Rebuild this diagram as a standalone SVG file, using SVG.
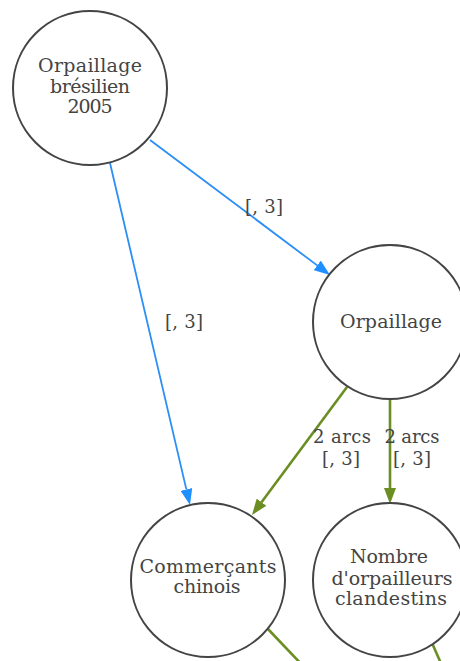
<svg xmlns="http://www.w3.org/2000/svg" width="460" height="661" viewBox="0 0 460 661">
<style>
.node circle{fill:#fff;stroke:#444;stroke-width:2}
.node text{font-family:"DejaVu Serif",serif;font-size:19px;fill:#444;text-anchor:middle}
.lbl{font-family:"DejaVu Serif",serif;font-size:18px;fill:#444;text-anchor:middle}
.blue{stroke:#2b8ff5;stroke-width:1.8;fill:none}
.green{stroke:#6b8e23;stroke-width:2.6;fill:none}
</style>
<defs>
<marker id="ab" viewBox="0 -6 16 12" markerWidth="16" markerHeight="12" refX="0" refY="0" orient="auto" markerUnits="userSpaceOnUse"><path d="M0,-6 L16,0 L0,6 z" fill="#1e8fff"/></marker>
<marker id="ag" viewBox="0 -6 16 12" markerWidth="16" markerHeight="12" refX="0" refY="0" orient="auto" markerUnits="userSpaceOnUse"><path d="M0,-6 L16,0 L0,6 z" fill="#6b8e23"/></marker>
</defs>
<g id="edges">
<path class="blue" d="M110,163 L186.35,489.4" marker-end="url(#ab)"/>
<path class="blue" d="M150,140 L317.2,265.4" marker-end="url(#ab)"/>
<path class="green" d="M347,387 L261.5,502.2" marker-end="url(#ag)"/>
<path class="green" d="M390,399 L390,488" marker-end="url(#ag)"/>
<path class="green" d="M267,628 L305,668"/>
<path class="green" d="M432,643 L443,668"/>
<text class="lbl" x="264" y="213" textLength="38" lengthAdjust="spacing">[, 3]</text>
<text class="lbl" x="184" y="328" textLength="38" lengthAdjust="spacing">[, 3]</text>
<text class="lbl" x="342" y="443" textLength="58" lengthAdjust="spacing">2 arcs</text>
<text class="lbl" x="341" y="465" textLength="38" lengthAdjust="spacing">[, 3]</text>
<text class="lbl" x="412" y="443" textLength="55" lengthAdjust="spacing">2 arcs</text>
<text class="lbl" x="412" y="465" textLength="38" lengthAdjust="spacing">[, 3]</text>
</g>
<g id="n1" class="node">
<circle cx="90" cy="88" r="77"/>
<text x="90" y="72" textLength="104" lengthAdjust="spacing">Orpaillage</text>
<text x="90" y="93" textLength="80" lengthAdjust="spacing">brésilien</text>
<text x="90" y="113" textLength="45" lengthAdjust="spacing">2005</text>
</g>
<g id="n2" class="node">
<circle cx="390" cy="322" r="77"/>
<text x="391" y="328" textLength="102" lengthAdjust="spacing">Orpaillage</text>
</g>
<g id="n3" class="node">
<circle cx="208" cy="580" r="77"/>
<text x="208" y="573" textLength="137" lengthAdjust="spacing">Commerçants</text>
<text x="207" y="593" textLength="67" lengthAdjust="spacing">chinois</text>
</g>
<g id="n4" class="node">
<circle cx="390" cy="580" r="77"/>
<text x="389" y="563" textLength="78" lengthAdjust="spacing">Nombre</text>
<text x="392" y="585" textLength="121" lengthAdjust="spacing">d'orpailleurs</text>
<text x="391" y="605" textLength="112" lengthAdjust="spacing">clandestins</text>
</g>
</svg>
